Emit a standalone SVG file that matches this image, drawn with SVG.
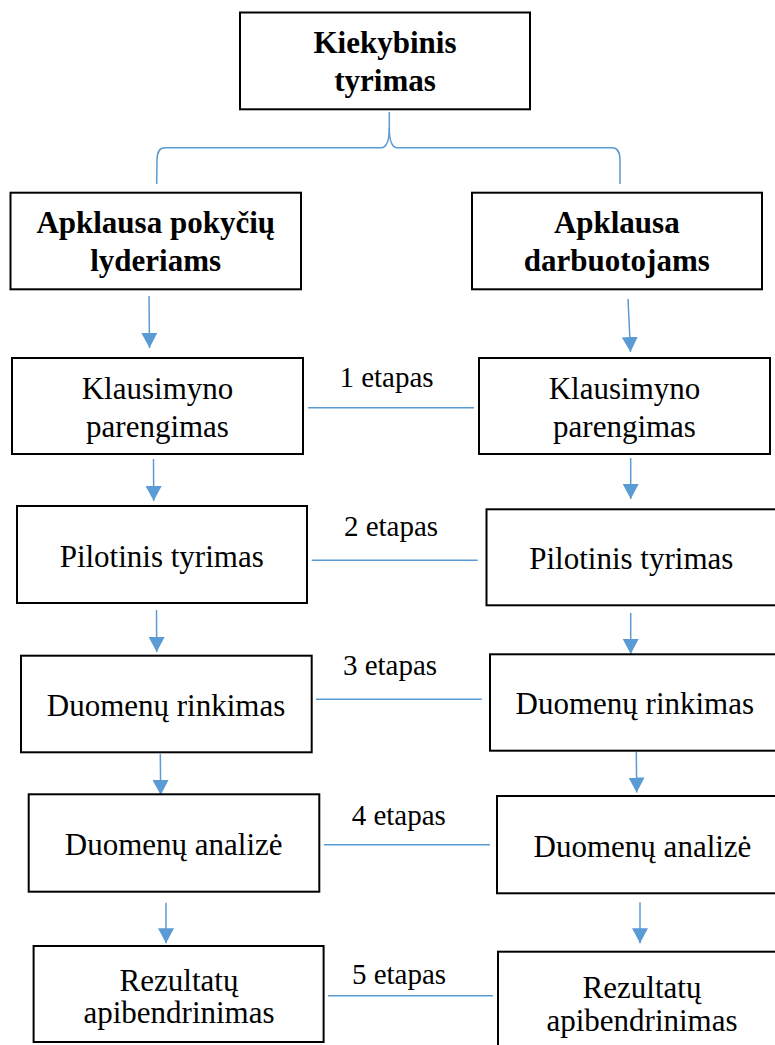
<svg xmlns="http://www.w3.org/2000/svg" width="775" height="1045" viewBox="0 0 775 1045">
<style>
.box{fill:#fff;stroke:#000;stroke-width:2}
.t{font-family:"Liberation Serif","Times New Roman",serif;font-size:31px;fill:#000;text-anchor:middle}
.b{font-weight:bold}
.e{font-family:"Liberation Serif","Times New Roman",serif;font-size:29px;fill:#000;text-anchor:middle}
.c{stroke:#5B9BD5;stroke-width:1.5;fill:none}
</style>
<defs>
<marker id="ah" markerUnits="userSpaceOnUse" markerWidth="16" markerHeight="16" viewBox="0 0 16 16" refX="15" refY="8" orient="auto">
<path d="M0,0 L15,8 L0,16 Z" fill="#5B9BD5"/>
</marker>
</defs>
<rect width="775" height="1045" fill="#fff"/>
<g id="connectors">
<path class="c" d="M389.3,112 L389.3,128 Q389.3,147.7 381,147.7 L165,147.7 Q157,147.7 157,160 L156.7,184"/>
<path class="c" d="M389.3,128 Q389.3,147.7 397.5,147.7 L612,147.7 Q620,147.7 620,160 L620,184"/>
<line class="c" x1="149" y1="296" x2="149.5" y2="348" marker-end="url(#ah)"/>
<line class="c" x1="628" y1="299" x2="630.5" y2="352" marker-end="url(#ah)"/>
<line class="c" x1="153.5" y1="459" x2="153.7" y2="501" marker-end="url(#ah)"/>
<line class="c" x1="630.7" y1="458" x2="630.7" y2="499" marker-end="url(#ah)"/>
<line class="c" x1="156.5" y1="610" x2="156.7" y2="652" marker-end="url(#ah)"/>
<line class="c" x1="630.7" y1="613" x2="630.7" y2="654" marker-end="url(#ah)"/>
<line class="c" x1="160.3" y1="754" x2="160.7" y2="795" marker-end="url(#ah)"/>
<line class="c" x1="636.3" y1="752" x2="636.7" y2="792.5" marker-end="url(#ah)"/>
<line class="c" x1="166" y1="902.7" x2="166" y2="943.3" marker-end="url(#ah)"/>
<line class="c" x1="640" y1="902.3" x2="640" y2="943.3" marker-end="url(#ah)"/>
<line class="c" x1="308" y1="407.7" x2="474" y2="407.7"/>
<line class="c" x1="311.7" y1="560.3" x2="477.7" y2="560.3"/>
<line class="c" x1="316" y1="699.3" x2="481.7" y2="699.3"/>
<line class="c" x1="324" y1="844.7" x2="490" y2="844.7"/>
<line class="c" x1="328" y1="995.7" x2="493" y2="995.7"/>
<text class="e" x="386.5" y="387">1 etapas</text>
<text class="e" x="391" y="536">2 etapas</text>
<text class="e" x="390" y="675">3 etapas</text>
<text class="e" x="398.8" y="825">4 etapas</text>
<text class="e" x="399" y="984">5 etapas</text>
</g>
<g id="n-top">
<rect class="box" x="240" y="12.5" width="290" height="96.8"/>
<text class="t b" x="385" y="53.3">Kiekybinis</text>
<text class="t b" x="385" y="90.7">tyrimas</text>
</g>
<g id="n-lyderiams">
<rect class="box" x="10.5" y="192.7" width="290.5" height="96.6"/>
<text class="t b" x="155.7" y="233.3">Apklausa pokyčių</text>
<text class="t b" x="155.7" y="271">lyderiams</text>
</g>
<g id="n-darbuotojams">
<rect class="box" x="472" y="192.7" width="290" height="96.6"/>
<text class="t b" x="616.8" y="233.3">Apklausa</text>
<text class="t b" x="616.8" y="271">darbuotojams</text>
</g>
<g id="n-l1">
<rect class="box" x="12" y="358" width="291" height="96"/>
<text class="t" x="157.5" y="399.3">Klausimyno</text>
<text class="t" x="157.5" y="436.7">parengimas</text>
</g>
<g id="n-r1">
<rect class="box" x="479" y="358" width="291" height="96"/>
<text class="t" x="624.5" y="399.3">Klausimyno</text>
<text class="t" x="624.5" y="436.7">parengimas</text>
</g>
<g id="n-l2">
<rect class="box" x="17" y="506" width="290" height="97"/>
<text class="t" x="161.7" y="566.7">Pilotinis tyrimas</text>
</g>
<g id="n-r2">
<rect class="box" x="486.5" y="509.3" width="290" height="96"/>
<text class="t" x="631.3" y="569">Pilotinis tyrimas</text>
</g>
<g id="n-l3">
<rect class="box" x="21" y="655.7" width="290.7" height="96.6"/>
<text class="t" x="166" y="715.7">Duomenų rinkimas</text>
</g>
<g id="n-r3">
<rect class="box" x="490" y="654.3" width="290" height="96.4"/>
<text class="t" x="634.8" y="714.3">Duomenų rinkimas</text>
</g>
<g id="n-l4">
<rect class="box" x="28.7" y="794.3" width="290.6" height="97.4"/>
<text class="t" x="173.7" y="855">Duomenų analizė</text>
</g>
<g id="n-r4">
<rect class="box" x="497" y="796" width="290" height="97.3"/>
<text class="t" x="642.5" y="857.3">Duomenų analizė</text>
</g>
<g id="n-l5">
<rect class="box" x="33.6" y="946" width="290" height="96"/>
<text class="t" x="179" y="990.7">Rezultatų</text>
<text class="t" x="179" y="1023.3">apibendrinimas</text>
</g>
<g id="n-r5">
<rect class="box" x="498" y="951.7" width="290" height="96"/>
<text class="t" x="642" y="998.3">Rezultatų</text>
<text class="t" x="642" y="1030.7">apibendrinimas</text>
</g>
</svg>
